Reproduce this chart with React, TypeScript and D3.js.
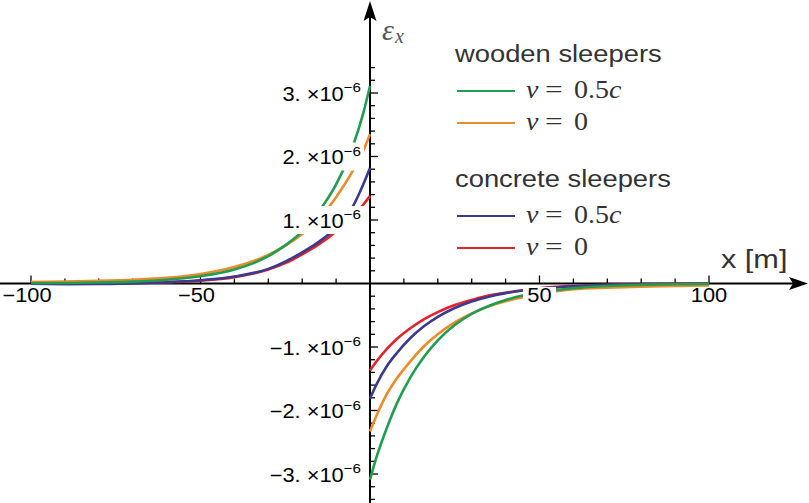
import React from 'react';
import * as d3 from 'd3';

// x positions (m) for the two branches
const xLeft = [-100, -90, -80, -70, -60, -50, -40, -30, -25, -20, -15, -10, -5, -2, 0];
const xRight = [0, 2, 5, 8, 12, 16, 20, 25, 30, 35, 40, 45, 50, 60, 70, 80, 90, 100];

// strain values in units of 1e-6
const woodFastLeft = [0.004, 0.008, 0.016, 0.03, 0.06, 0.115, 0.22, 0.43, 0.6, 0.82, 1.14, 1.56, 2.17, 2.68, 3.11];
const woodStaticLeft = [0.022, 0.03, 0.042, 0.06, 0.09, 0.15, 0.26, 0.45, 0.595, 0.78, 1.02, 1.36, 1.78, 2.09, 2.35];
const concFastLeft = [-0.005, -0.01, -0.008, 0.003, 0.02, 0.05, 0.11, 0.23, 0.345, 0.49, 0.66, 0.88, 1.22, 1.56, 1.82];
const concStaticLeft = [0, -0.004, 0, 0.008, 0.02, 0.045, 0.1, 0.22, 0.32, 0.46, 0.62, 0.82, 1.07, 1.24, 1.38];

const woodFastRight = [-3.09, -2.72, -2.27, -1.88, -1.47, -1.15, -0.895, -0.655, -0.48, -0.355, -0.26, -0.19, -0.14, -0.075, -0.04, -0.022, -0.012, -0.006];
const woodStaticRight = [-2.33, -2.07, -1.74, -1.49, -1.22, -0.985, -0.8, -0.613, -0.47, -0.36, -0.28, -0.215, -0.16, -0.09, -0.065, -0.05, -0.04, -0.03];
const concFastRight = [-1.81, -1.58, -1.3, -1.09, -0.855, -0.67, -0.525, -0.385, -0.282, -0.207, -0.152, -0.11, -0.082, -0.044, -0.024, -0.013, -0.007, -0.004];
const concStaticRight = [-1.37, -1.22, -1.03, -0.87, -0.7, -0.56, -0.45, -0.34, -0.26, -0.19, -0.145, -0.105, -0.075, -0.04, -0.02, -0.01, -0.005, 0];

const xTickLabels = ['\u2212100', '\u221250', '50', '100'];
const xTickValues = [-100, -50, 50, 100];
const yTickValues = [3, 2, 1, -1, -2, -3];
const yTickLabels = ['3.', '2.', '1.', '\u22121.', '\u22122.', '\u22123.'];

const legendGroups = ['wooden sleepers', 'concrete sleepers'];
const legendSpeeds = ['0.5', '0'];

const GREEN = '#1f9e4f';
const ORANGE = '#ef8a2a';
const BLUE = '#3b3a8e';
const RED = '#e4222a';
const TEXT = '#333333';

const SX = 1.12;
const SANS = '"Liberation Sans", Arial, sans-serif';
const SERIF = '"Liberation Serif", "Times New Roman", serif';

export default function App() {
  const x = d3.scaleLinear().domain([-100, 100]).range([31, 709]);
  const y = d3.scaleLinear().domain([0, 1]).range([283.5, 220]);
  const x0 = x(0);
  const y0 = y(0);

  const line = d3
    .line<[number, number]>()
    .x((d) => x(d[0]))
    .y((d) => y(d[1]))
    .curve(d3.curveMonotoneX);

  const series = [
    { color: RED, left: concStaticLeft, right: concStaticRight },
    { color: BLUE, left: concFastLeft, right: concFastRight },
    { color: ORANGE, left: woodStaticLeft, right: woodStaticRight },
    { color: GREEN, left: woodFastLeft, right: woodFastRight },
  ];

  const xTicks = d3.range(-100, 101, 10).filter((v) => v !== 0);
  const yTicks = d3.range(-34, 35, 2).map((v) => v / 10).filter((v) => v !== 0);

  const legendColors = [[GREEN, ORANGE], [BLUE, RED]];
  const legendTop = [62, 187];

  return (
    <svg width={809} height={503} style={{ position: 'absolute', left: 0, top: 0, background: '#fff' }}>
      {/* axes */}
      <line x1={0} x2={796} y1={y0} y2={y0} stroke="#000" strokeWidth={2} />
      <path d={`M808,${y0} L789,${y0 - 6.5} L793,${y0} L789,${y0 + 6.5} Z`} fill="#000" />
      <line x1={x0} x2={x0} y1={503} y2={14} stroke="#000" strokeWidth={2} />
      <path d={`M${x0},1 L${x0 - 6.5},21 L${x0},17 L${x0 + 6.5},21 Z`} fill="#000" />
      {xTicks.map((v) => (
        <line key={'xt' + v} x1={x(v)} x2={x(v)} y1={y0} y2={y0 - (v % 50 === 0 ? 8 : 5)} stroke="#000" strokeWidth={1.3} />
      ))}
      {yTicks.map((v) => (
        <line key={'yt' + v} x1={x0} x2={x0 + (Math.abs(Math.round(v * 10)) % 10 === 0 ? 8 : 5)} y1={y(v)} y2={y(v)} stroke="#000" strokeWidth={1.3} />
      ))}

      {/* curves */}
      {series.map((s, i) => (
        <g key={'s' + i} fill="none" stroke={s.color} strokeWidth={2.6}>
          <path d={line(xLeft.map((xv, j) => [xv, s.left[j]]) as [number, number][]) || ''} />
          <path d={line(xRight.map((xv, j) => [xv, s.right[j]]) as [number, number][]) || ''} />
        </g>
      ))}

      {/* y tick labels */}
      {yTickValues.map((v, i) => {
        const ty = y(v);
        const w = v > 0 ? 86 : 95;
        return (
          <g key={'yl' + v}>
            <rect x={364 - w} y={ty - 14} width={w} height={28} fill="#fff" />
            <g transform={`translate(361,${ty + 7.5}) scale(${SX},1)`}>
              <text textAnchor="end" fontFamily={SANS} fontSize={19.5} fill="#000">
                <tspan>{yTickLabels[i]}</tspan>
                <tspan> {'\u00d7'}</tspan>
                <tspan>10</tspan>
                <tspan fontSize={13.5} dy={-8.2}>{'\u22126'}</tspan>
              </text>
            </g>
          </g>
        );
      })}

      {/* x tick labels */}
      {xTickValues.map((v, i) => {
        const tx = x(v) + (v < 0 ? -4 : 0);
        const w = v < 0 ? (v === -100 ? 52 : 40) : v === 100 ? 42 : 33;
        return (
          <g key={'xl' + v}>
            <rect x={tx - w / 2} y={287} width={w} height={19} fill="#fff" />
            <g transform={`translate(${tx},302) scale(${SX},1)`}>
              <text textAnchor="middle" fontFamily={SANS} fontSize={19.5} fill="#000">
                {xTickLabels[i]}
              </text>
            </g>
          </g>
        );
      })}

      {/* axis labels */}
      <g transform={`translate(721,268) scale(${SX + 0.06},1)`}>
        <text fontFamily={SANS} fontSize={26} fill={TEXT}>x [m]</text>
      </g>
      <text x={382} y={40} fontFamily={SERIF} fontStyle="italic" fontSize={30} fill="#555">
        {'\u03b5'}
      </text>
      <text x={395} y={43} fontFamily={SERIF} fontStyle="italic" fontSize={20} fill="#555">
        x
      </text>

      {/* legend */}
      {legendGroups.map((g, gi) => {
        const top = legendTop[gi];
        return (
          <g key={'lg' + gi}>
            <g transform={`translate(455,${top}) scale(${SX + 0.02},1)`}>
              <text fontFamily={SANS} fontSize={24} fill={TEXT}>{g}</text>
            </g>
            {legendSpeeds.map((sp, ei) => {
              const by = top + 35.5 + ei * 32;
              const ly = by - 6.5;
              return (
                <g key={'le' + ei}>
                  <line x1={457} x2={515} y1={ly} y2={ly} stroke={legendColors[gi][ei]} strokeWidth={2.2} />
                  <g transform={`translate(526,${by}) scale(${SX},1)`}>
                    <text fontFamily={SERIF} fontSize={25} fill={TEXT} fontStyle="italic">v</text>
                  </g>
                  <g transform={`translate(545,${by}) scale(1.25,1)`}>
                    <text fontFamily={SERIF} fontSize={25} fill={TEXT}>=</text>
                  </g>
                  <g transform={`translate(574,${by}) scale(${SX},1)`}>
                    <text fontFamily={SERIF} fontSize={25} fill={TEXT}>
                      <tspan>{sp}</tspan>
                      {sp === '0.5' ? <tspan fontStyle="italic">c</tspan> : null}
                    </text>
                  </g>
                </g>
              );
            })}
          </g>
        );
      })}
    </svg>
  );
}
